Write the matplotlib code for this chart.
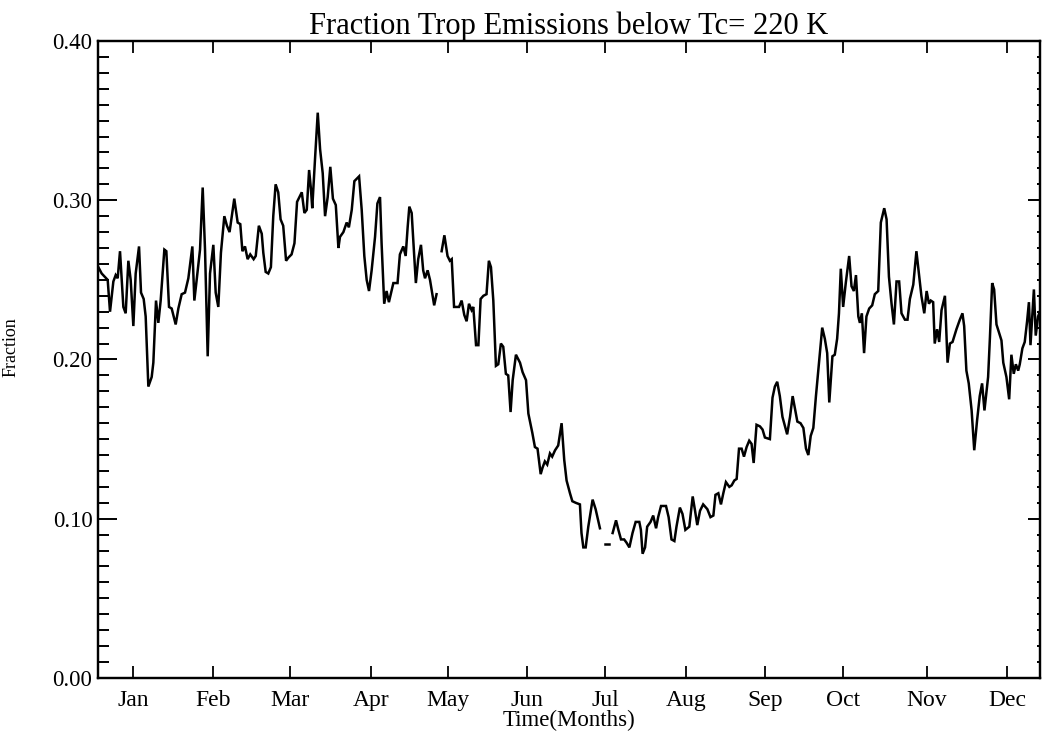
import matplotlib
matplotlib.use('Agg')
import matplotlib.pyplot as plt
from matplotlib.ticker import MultipleLocator, FormatStrFormatter

# Daily fraction as (day of year, fraction) vertices.
# The record has two short gaps (late May, early July).
jan_may = [
    (1.75, 0.258), (3.03, 0.254), (5.32, 0.250), (6.21, 0.230), (7.49, 0.249),
    (8.38, 0.253), (9.14, 0.251), (10.03, 0.268), (11.31, 0.233), (12.2, 0.229),
    (13.22, 0.262), (14.11, 0.250), (15.13, 0.221), (16.02, 0.254), (17.3, 0.271),
    (18.06, 0.242), (19.08, 0.238), (19.84, 0.227), (20.86, 0.183), (22.14, 0.189),
    (22.77, 0.198), (23.79, 0.237), (24.68, 0.223), (25.57, 0.237), (26.98, 0.269),
    (27.74, 0.268), (28.76, 0.233), (29.78, 0.232), (31.31, 0.222), (32.33, 0.232),
    (33.6, 0.241), (34.87, 0.242), (36.15, 0.251), (37.68, 0.271), (38.44, 0.237),
    (39.33, 0.250), (40.61, 0.269), (41.63, 0.308), (42.52, 0.269), (43.54, 0.202),
    (44.43, 0.254), (45.7, 0.272), (46.6, 0.242), (47.6, 0.233), (48.6, 0.267),
    (49.9, 0.290), (50.9, 0.284), (51.9, 0.280), (53.7, 0.301), (55.0, 0.286),
    (56.0, 0.285), (56.8, 0.268), (57.8, 0.271), (58.8, 0.263), (59.8, 0.266),
    (61.1, 0.263), (61.9, 0.265), (63.1, 0.284), (64.2, 0.279), (64.8, 0.267),
    (65.7, 0.255), (66.7, 0.254), (67.7, 0.258), (68.6, 0.290), (69.5, 0.310),
    (70.5, 0.305), (71.4, 0.288), (72.4, 0.284), (73.5, 0.262), (74.4, 0.264),
    (75.6, 0.266), (76.7, 0.273), (77.7, 0.299), (79.5, 0.305), (80.5, 0.292),
    (81.4, 0.294), (82.3, 0.319), (83.0, 0.307), (83.5, 0.295), (84.6, 0.327),
    (85.6, 0.355), (86.5, 0.332), (87.5, 0.317), (88.4, 0.290), (89.4, 0.302),
    (90.4, 0.321), (91.4, 0.301), (92.5, 0.297), (93.5, 0.270), (94.1, 0.277),
    (95.4, 0.280), (96.65, 0.286), (97.5, 0.283), (98.6, 0.294), (99.6, 0.312),
    (101.4, 0.315), (102.4, 0.294), (103.4, 0.265), (104.3, 0.250), (105.2, 0.243),
    (106.2, 0.256), (107.5, 0.277), (108.4, 0.298), (109.4, 0.302), (110.0, 0.273),
    (111.0, 0.235), (111.9, 0.243), (112.8, 0.236), (114.5, 0.248), (116.1, 0.248),
    (117.0, 0.266), (118.3, 0.271), (119.2, 0.265), (119.96, 0.283), (120.6, 0.296),
    (121.5, 0.292), (122.4, 0.267), (123.1, 0.248), (124.0, 0.263), (125.05, 0.272),
    (125.9, 0.256), (126.6, 0.251), (127.6, 0.256), (128.5, 0.250), (130.1, 0.234),
    (131.0, 0.241),
]

may_jul = [
    (132.95, 0.268), (134.0, 0.278), (135.2, 0.265), (136.1, 0.262), (136.8, 0.263),
    (137.7, 0.233), (139.6, 0.233), (140.6, 0.237), (141.6, 0.228), (142.5, 0.224),
    (143.4, 0.235), (144.4, 0.231), (145.05, 0.233), (146.1, 0.209), (147.0, 0.209),
    (147.85, 0.238), (148.9, 0.240), (150.1, 0.241), (151.0, 0.262), (151.8, 0.258),
    (152.7, 0.237), (153.7, 0.196), (154.6, 0.197), (155.6, 0.210), (156.5, 0.208),
    (157.5, 0.191), (158.4, 0.190), (159.3, 0.167), (160.1, 0.187), (161.35, 0.203),
    (162.9, 0.198), (163.9, 0.192), (165.2, 0.187), (166.1, 0.166), (167.6, 0.154),
    (168.6, 0.145), (169.6, 0.144), (170.8, 0.128), (171.5, 0.132), (172.4, 0.136),
    (173.3, 0.134), (174.35, 0.141), (175.2, 0.139), (176.3, 0.143), (177.5, 0.146),
    (178.8, 0.160), (179.8, 0.137), (180.7, 0.124), (182.0, 0.116), (182.9, 0.111),
    (184.2, 0.110), (185.8, 0.109), (186.4, 0.091), (187.1, 0.082), (188.0, 0.082),
    (189.0, 0.095), (190.65, 0.112), (191.8, 0.106), (193.45, 0.094),
]

jul_bit = [(195.4, 0.084), (197.0, 0.084)]

jul_dec = [
    (198.3, 0.091), (199.6, 0.099), (200.5, 0.093), (201.5, 0.087), (202.7, 0.087),
    (203.6, 0.085), (204.7, 0.082), (205.9, 0.091), (207.1, 0.098), (208.5, 0.098),
    (209.1, 0.093), (209.75, 0.078), (210.7, 0.082), (211.5, 0.095), (212.8, 0.098),
    (213.8, 0.102), (214.9, 0.094), (215.7, 0.101), (216.8, 0.108), (218.7, 0.108),
    (219.7, 0.101), (220.8, 0.087), (221.9, 0.086), (222.7, 0.095), (224.0, 0.107),
    (225.0, 0.103), (226.1, 0.093), (227.6, 0.095), (228.9, 0.114), (229.8, 0.105),
    (230.65, 0.096), (231.7, 0.105), (232.9, 0.109), (234.5, 0.106), (235.7, 0.101),
    (236.8, 0.102), (237.6, 0.115), (238.7, 0.116), (239.7, 0.109), (240.6, 0.116),
    (241.6, 0.123), (242.9, 0.120), (243.8, 0.121), (244.8, 0.124), (245.7, 0.125),
    (246.6, 0.144), (247.6, 0.144), (248.5, 0.139), (249.5, 0.145), (250.5, 0.149),
    (251.4, 0.147), (252.2, 0.135), (253.3, 0.159), (254.6, 0.158), (255.6, 0.156),
    (256.5, 0.151), (258.4, 0.150), (259.4, 0.176), (260.3, 0.183), (261.2, 0.186),
    (262.2, 0.177), (263.2, 0.164), (265.0, 0.153), (266.1, 0.164), (267.1, 0.177),
    (268.0, 0.169), (268.9, 0.161), (270.1, 0.160), (271.2, 0.157), (272.2, 0.144),
    (273.1, 0.140), (274.0, 0.152), (275.0, 0.157), (276.0, 0.177), (277.3, 0.200),
    (278.4, 0.220), (279.4, 0.213), (280.3, 0.204), (281.1, 0.173), (282.3, 0.202),
    (283.2, 0.203), (284.1, 0.213), (284.8, 0.229), (285.5, 0.257), (286.4, 0.233),
    (287.4, 0.248), (288.7, 0.265), (289.6, 0.246), (290.5, 0.243), (291.3, 0.253),
    (292.2, 0.227), (292.8, 0.223), (293.55, 0.229), (294.4, 0.204), (295.3, 0.227),
    (296.35, 0.232), (297.5, 0.234), (298.5, 0.241), (299.8, 0.243), (300.8, 0.286),
    (302.1, 0.295), (303.0, 0.288), (303.9, 0.252), (304.9, 0.235), (305.8, 0.222),
    (306.8, 0.249), (307.8, 0.249), (308.7, 0.229), (310.0, 0.225), (311.0, 0.225),
    (311.9, 0.238), (313.2, 0.247), (314.4, 0.268), (315.5, 0.252), (316.3, 0.240),
    (317.4, 0.229), (318.3, 0.243), (319.2, 0.235), (319.9, 0.237), (320.8, 0.236),
    (321.4, 0.210), (322.3, 0.219), (323.1, 0.211), (324.0, 0.231), (325.3, 0.240),
    (326.3, 0.198), (327.2, 0.210), (328.2, 0.211), (329.7, 0.219), (331.0, 0.225),
    (332.0, 0.229), (332.65, 0.221), (333.5, 0.193), (334.4, 0.185), (335.5, 0.168),
    (336.5, 0.143), (337.6, 0.162), (338.6, 0.177), (339.5, 0.185), (340.4, 0.168),
    (341.8, 0.189), (342.5, 0.214), (343.35, 0.248), (344.1, 0.244), (345.0, 0.222),
    (346.9, 0.212), (347.6, 0.198), (348.8, 0.189), (349.85, 0.175), (350.7, 0.203),
    (351.6, 0.191), (352.4, 0.197), (353.3, 0.193), (353.9, 0.197), (354.9, 0.207),
    (355.8, 0.211), (356.7, 0.224), (357.4, 0.236), (358.0, 0.209), (358.6, 0.225),
    (359.3, 0.244), (360.0, 0.215), (360.9, 0.227), (362.2, 0.233),
]

months = ['Jan', 'Feb', 'Mar', 'Apr', 'May', 'Jun',
          'Jul', 'Aug', 'Sep', 'Oct', 'Nov', 'Dec']
month_days = [15, 45.5, 75, 106, 135.5, 165.5, 195.5, 226.5, 256.5, 286.5, 318.5, 349]

plt.rcParams['font.family'] = 'Liberation Serif'

fig = plt.figure(figsize=(10.42, 7.35), dpi=100)
ax = fig.add_axes([0.094, 0.0776, 0.904, 0.8666])

for seg in (jan_may, may_jul, jul_bit, jul_dec):
    d, v = zip(*seg)
    ax.plot(d, v, color='black', lw=1.8, solid_joinstyle='miter')

ax.set_xlim(1.6, 361.6)
ax.set_ylim(0, 0.40)

ax.set_xticks(month_days)
ax.set_xticklabels(months)
ax.yaxis.set_major_locator(MultipleLocator(0.1))
ax.yaxis.set_minor_locator(MultipleLocator(0.01))
ax.yaxis.set_major_formatter(FormatStrFormatter('%.2f'))

ax.tick_params(axis='x', direction='in', length=8.6, width=1.3, top=True,
               labelsize=17, pad=9)
ax.tick_params(axis='y', which='major', direction='in', length=13.7, width=1.4,
               labelsize=16.5, pad=4, right=False)
ax.tick_params(axis='y', which='minor', direction='in', length=8, width=1.4, right=False)

# right side: shorter ticks, no labels
ax2 = ax.twinx()
ax2.set_ylim(0, 0.40)
ax2.yaxis.set_major_locator(MultipleLocator(0.1))
ax2.yaxis.set_minor_locator(MultipleLocator(0.01))
ax2.tick_params(axis='y', which='major', direction='in', length=8.6, width=1.4, labelright=False)
ax2.tick_params(axis='y', which='minor', direction='in', length=2.5, width=1.4)

for a in (ax, ax2):
    for s in a.spines.values():
        s.set_linewidth(1.6)

ax.set_title('Fraction Trop Emissions below Tc= 220 K', fontsize=22, pad=3)
ax.set_xlabel('Time(Months)', fontsize=16.5, labelpad=-1)
ax.set_ylabel('Fraction', fontsize=13)
ax.yaxis.set_label_coords(-0.083, 0.52)

fig.savefig('out.png', dpi=100)
